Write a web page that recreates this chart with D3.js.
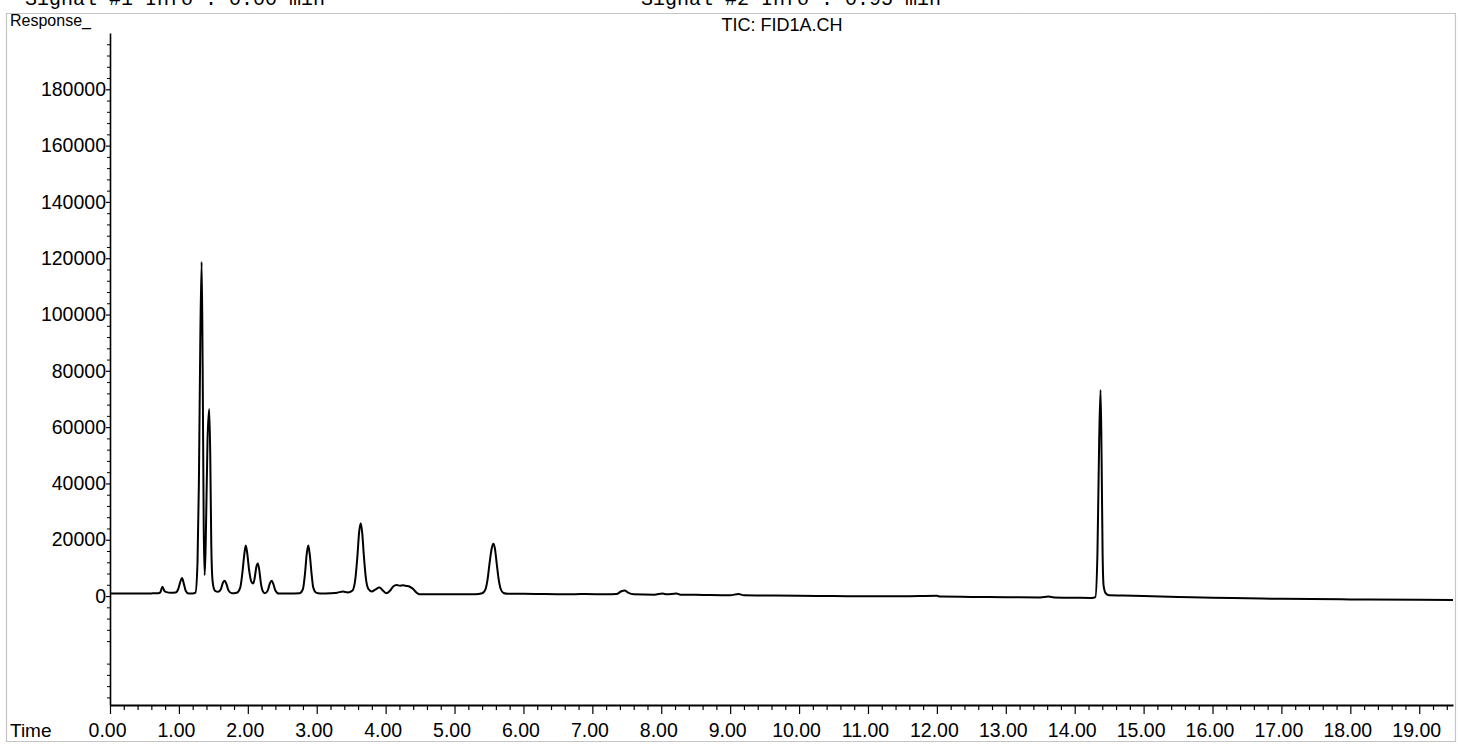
<!DOCTYPE html>
<html>
<head>
<meta charset="utf-8">
<script src="https://cdn.jsdelivr.net/npm/d3@7"></script>
<style>
  html, body { margin: 0; padding: 0; background: #fff; }
  svg { display: block; }
  text { font-family: "Liberation Sans", Arial, sans-serif; fill: #000; }
</style>
</head>
<body>
<svg id="chart" width="1458" height="744"></svg>
<script>
// ---------------- data ----------------
const yMajorTicks = [0, 20000, 40000, 60000, 80000, 100000, 120000, 140000, 160000, 180000];
const xMajorTicks = [0,1,2,3,4,5,6,7,8,9,10,11,12,13,14,15,16,17,18,19];
const xTickLabels = ["0.00","1.00","2.00","3.00","4.00","5.00","6.00","7.00","8.00","9.00","10.00",
                     "11.00","12.00","13.00","14.00","15.00","16.00","17.00","18.00","19.00"];
const titleText = "TIC: FID1A.CH";
const headerLeft = "Signal #1 Info : 0.00 min";
const headerRight = "Signal #2 Info : 0.95 min";

// retention time (min)
const times = [
  0.00,0.30,0.60,0.70,0.73,0.76,0.79,0.82,0.88,0.95,0.99,1.02,1.045,1.07,1.10,1.14,1.20,1.24,
  1.27,1.29,1.31,1.33,1.345,1.36,1.374,1.39,1.415,1.44,1.455,1.47,1.49,1.52,1.57,1.61,1.64,1.665,
  1.69,1.72,1.77,1.84,1.89,1.92,1.95,1.97,1.99,2.02,2.05,2.08,2.10,2.125,2.145,2.165,2.19,2.22,
  2.25,2.29,2.32,2.347,2.37,2.40,2.45,2.60,2.75,2.80,2.83,2.855,2.878,2.90,2.925,2.95,2.99,3.05,
  3.20,3.30,3.38,3.45,3.52,3.56,3.59,3.615,3.639,3.66,3.685,3.715,3.75,3.80,3.85,3.91,3.96,4.01,
  4.06,4.11,4.16,4.21,4.25,4.30,4.35,4.40,4.45,4.49,4.70,5.00,5.30,5.40,5.45,5.48,5.51,5.54,
  5.563,5.585,5.61,5.64,5.67,5.71,5.78,6.00,6.30,6.60,6.90,7.20,7.35,7.42,7.47,7.52,7.60,7.90,
  8.02,8.08,8.22,8.28,8.60,9.00,9.12,9.20,9.60,10.00,10.50,11.00,11.50,12.00,12.05,12.50,13.00,
  13.50,13.62,13.70,14.00,14.25,14.30,14.33,14.355,14.375,14.39,14.405,14.42,14.45,14.50,14.70,
  15.00,15.50,16.00,16.50,17.00,18.00,19.00,19.49
];
// detector response
const responses = [
  900,900,950,1000,1300,3300,1800,1400,1200,1300,2500,5000,6400,4500,1800,900,900,1200,
  12000,40000,90000,118700,80000,25000,7400,20000,55000,66400,50000,18000,5000,2000,1500,2500,4800,5400,
  4200,2000,1000,1200,3000,8000,15000,18000,15500,9000,5200,4500,6500,10500,11600,9500,4500,1600,
  1000,2000,4500,5400,4300,2000,900,900,1000,2500,8000,15000,18000,14500,8000,3000,1200,900,
  1000,1200,1600,1300,2000,6000,14000,22500,25900,22500,14000,6000,2500,1600,2300,3000,2000,1000,
  1800,3400,3900,3700,3800,3600,3300,2500,1200,600,600,600,650,1000,2500,6000,12000,17000,
  18600,17000,12000,6000,2500,1100,800,800,700,650,700,600,700,1700,2000,1200,600,500,
  900,600,900,500,400,300,700,300,200,100,0,-100,-100,100,-200,-300,-400,
  -500,-200,-500,-600,-700,-400,15000,55000,73200,50000,15000,3500,1000,300,200,
  0,-300,-600,-800,-1000,-1200,-1300,-1400
];

// ---------------- chart ----------------
const svg = d3.select("#chart");
const W = 1458, H = 744;

const x = d3.scaleLinear().domain([0, 19.49]).range([110, 1453]);
const y = d3.scaleLinear().domain([-38700, 200000]).range([705, 33]);

// white background
svg.append("rect").attr("width", W).attr("height", H).attr("fill", "#fff");

// header (cut off at top of page, as in the scanned printout)
svg.append("text").attr("x", 25).attr("y", 5)
  .style("font-family", "'Liberation Mono', 'Courier New', monospace")
  .style("font-size", "20px").text(headerLeft);
svg.append("text").attr("x", 641).attr("y", 5)
  .style("font-family", "'Liberation Mono', 'Courier New', monospace")
  .style("font-size", "20px").text(headerRight);

// dotted frame
svg.append("rect").attr("x", 6.5).attr("y", 13.5).attr("width", 1449).attr("height", 728)
  .attr("fill", "none").attr("stroke", "#8a8a8a").attr("stroke-width", 1.2)
  .attr("stroke-dasharray", "1,1");

// labels
svg.append("text").attr("x", 10).attr("y", 26).style("font-size", "16px").text("Response_");
svg.append("text").attr("x", 782).attr("y", 31).attr("text-anchor", "middle")
  .style("font-size", "18px").text(titleText);
svg.append("text").attr("x", 10).attr("y", 737).style("font-size", "19px").text("Time");

// y axis minor ticks
const yMinor = d3.range(-36000, 200001, 4000).filter(v => v % 20000 !== 0);
svg.append("g").attr("transform", "translate(110,0)")
  .call(d3.axisLeft(y).tickValues(yMinor).tickSize(3).tickFormat(""))
  .call(g => g.select(".domain").remove())
  .call(g => g.selectAll("line").attr("stroke", "#000").attr("stroke-width", 1));

// y axis major
const yAxis = svg.append("g").attr("transform", "translate(110,0)")
  .call(d3.axisLeft(y).tickValues(yMajorTicks).tickSize(4).tickSizeOuter(0)
        .tickPadding(0).tickFormat(d3.format("d")));
yAxis.select(".domain").attr("stroke", "#000").attr("stroke-width", 1.6);
yAxis.selectAll("line").attr("stroke", "#000").attr("stroke-width", 1.2);
yAxis.selectAll("text").style("font-size", "19.5px")
  .style("font-family", "'Liberation Sans', Arial, sans-serif").attr("fill", "#000");

// x axis minor ticks
const xMinor = d3.range(0, 19.5, 0.2).map(v => +v.toFixed(1)).filter(v => Math.abs(v - Math.round(v)) > 1e-6);
svg.append("g").attr("transform", "translate(0,705)")
  .call(d3.axisBottom(x).tickValues(xMinor).tickSize(5).tickFormat(""))
  .call(g => g.select(".domain").remove())
  .call(g => g.selectAll("line").attr("stroke", "#000").attr("stroke-width", 1.2));

// x axis major
const xAxis = svg.append("g").attr("transform", "translate(0,705)")
  .call(d3.axisBottom(x).tickValues(xMajorTicks).tickSize(9).tickSizeOuter(0)
        .tickFormat((d, i) => xTickLabels[i]));
xAxis.select(".domain").attr("stroke", "#000").attr("stroke-width", 1.8);
xAxis.selectAll("line").attr("stroke", "#000").attr("stroke-width", 1.2);
xAxis.selectAll("text").attr("y", 32).attr("dy", 0).attr("dx", -3).style("font-size", "19.5px")
  .style("font-family", "'Liberation Sans', Arial, sans-serif").attr("fill", "#000");

// chromatogram trace
const pts = times.map((t, i) => [t, responses[i]]);
const line = d3.line().x(d => x(d[0])).y(d => y(d[1])).curve(d3.curveMonotoneX);
svg.append("path").datum(pts).attr("d", line)
  .attr("fill", "none").attr("stroke", "#000").attr("stroke-width", 2)
  .attr("stroke-linejoin", "round");
</script>
</body>
</html>
